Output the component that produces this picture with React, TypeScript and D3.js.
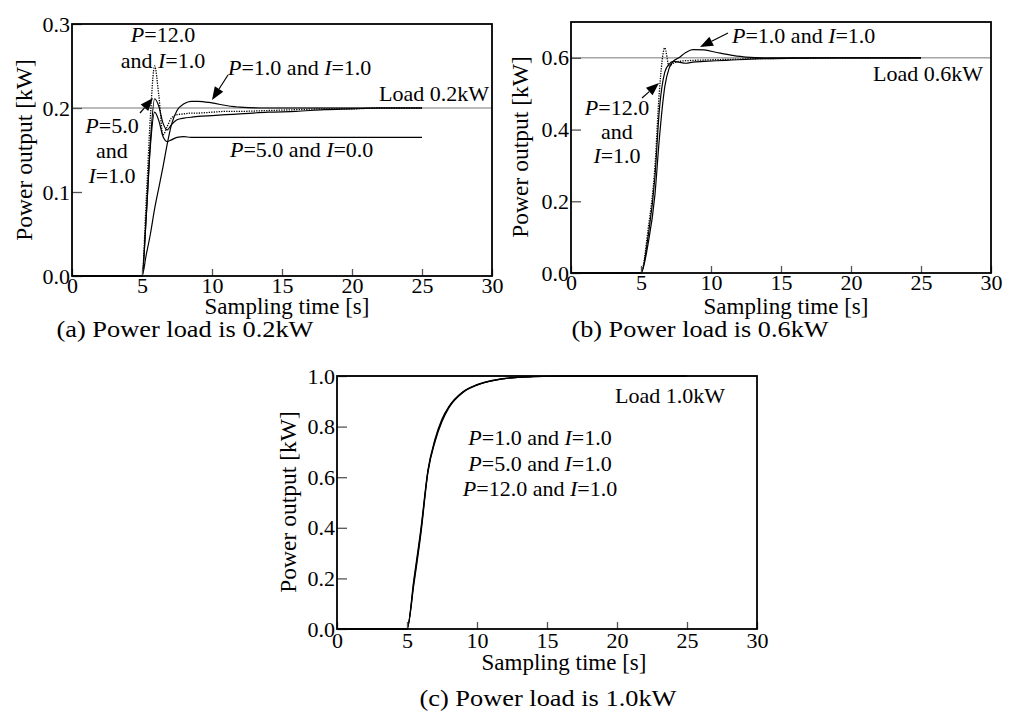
import * as d3 from 'd3';
import React, { useEffect, useRef } from 'react';

// panel (a): load 0.2 kW
const timeA = [0, 5, 5.3, 5.6, 5.9, 6.2, 6.5, 6.8, 7.1, 7.5, 8, 8.5, 9, 10, 11, 12, 14, 16, 18, 20, 22, 25];
const aP12I1 = [0, 0, 0.09, 0.19, 0.25, 0.215, 0.168, 0.178, 0.188, 0.192, 0.193, 0.194, 0.194, 0.195, 0.196, 0.196, 0.197, 0.198, 0.199, 0.199, 0.2, 0.2];
const aP5I1 = [0, 0, 0.07, 0.16, 0.211, 0.202, 0.182, 0.174, 0.18, 0.186, 0.188, 0.189, 0.19, 0.191, 0.192, 0.193, 0.195, 0.196, 0.198, 0.199, 0.2, 0.2];
const aP5I0 = [0, 0, 0.07, 0.155, 0.195, 0.185, 0.166, 0.16, 0.162, 0.165, 0.166, 0.165, 0.165, 0.165, 0.165, 0.165, 0.165, 0.165, 0.165, 0.165, 0.165, 0.165];
const aP1I1 = [0, 0, 0.025, 0.05, 0.08, 0.105, 0.13, 0.157, 0.18, 0.197, 0.205, 0.208, 0.208, 0.206, 0.203, 0.201, 0.2, 0.2, 0.2, 0.2, 0.2, 0.2];

// panel (b): load 0.6 kW
const timeB = [0, 5, 5.5, 6, 6.3, 6.7, 7.0, 7.3, 7.7, 8.2, 8.7, 9.5, 10.4, 11.5, 12.5, 14, 16, 19, 22, 25];
const bP12I1 = [0, 0, 0.12, 0.3, 0.5, 0.628, 0.578, 0.585, 0.59, 0.592, 0.593, 0.594, 0.595, 0.596, 0.597, 0.598, 0.599, 0.6, 0.6, 0.6];
const bP5I1 = [0, 0, 0.1, 0.27, 0.45, 0.56, 0.582, 0.59, 0.588, 0.585, 0.588, 0.59, 0.592, 0.594, 0.596, 0.598, 0.599, 0.6, 0.6, 0.6];
const bP1I1 = [0, 0, 0.08, 0.22, 0.37, 0.52, 0.57, 0.59, 0.6, 0.615, 0.623, 0.622, 0.615, 0.607, 0.602, 0.6, 0.6, 0.6, 0.6, 0.6];

// panel (c): load 1.0 kW
const timeC = [0, 5, 5.5, 6, 6.5, 7, 7.5, 8, 9, 10, 11, 12, 14, 17, 20, 25];
const cP1I1 = [0, 0, 0.18, 0.38, 0.62, 0.74, 0.82, 0.875, 0.935, 0.964, 0.98, 0.99, 0.997, 1, 1, 1];
const cP5I1 = [0, 0, 0.19, 0.39, 0.625, 0.745, 0.825, 0.878, 0.937, 0.965, 0.981, 0.99, 0.997, 1, 1, 1];
const cP12I1 = [0, 0, 0.2, 0.4, 0.63, 0.75, 0.83, 0.88, 0.938, 0.966, 0.982, 0.991, 0.998, 1, 1, 1];

const xTicks = [0, 5, 10, 15, 20, 25, 30];
const yTicksA = [0, 0.1, 0.2, 0.3];
const yTicksB = [0, 0.2, 0.4, 0.6];
const yTicksC = [0, 0.2, 0.4, 0.6, 0.8, 1.0];

const FONT = '"Liberation Serif", "Times New Roman", serif';

interface Series { values: number[]; dotted?: boolean }
interface Note { text: string; x: number; y: number; anchor: string }
interface Arrow { from: [number, number]; to: [number, number] }
interface Panel {
  left: number; right: number; top: number; bottom: number;
  yMax: number; yTicks: number[]; time: number[]; series: Series[]; load: number;
  xPad: number; titleX: number; titleY: number; yTitleX: number; yTitleY: number;
  caption: string; captionX: number; captionY: number;
  notes: Note[]; arrows: Arrow[];
}

const panels: Panel[] = [
  {
    left: 72, right: 492, top: 24, bottom: 276, yMax: 0.3, yTicks: yTicksA, time: timeA, load: 0.2,
    series: [{ values: aP5I0 }, { values: aP1I1 }, { values: aP5I1 }, { values: aP12I1, dotted: true }],
    xPad: 1, titleX: 287, titleY: 314, yTitleX: 32, yTitleY: 150,
    caption: '(a) Power load is 0.2kW', captionX: 185, captionY: 337,
    notes: [
      { text: 'P=12.0', x: 91, y: 18, anchor: 'middle' },
      { text: 'and I=1.0', x: 91, y: 44, anchor: 'middle' },
      { text: 'P=1.0 and I=1.0', x: 156, y: 51, anchor: 'start' },
      { text: 'Load 0.2kW', x: 417, y: 77, anchor: 'end' },
      { text: 'P=5.0', x: 40, y: 109, anchor: 'middle' },
      { text: 'and', x: 40, y: 134, anchor: 'middle' },
      { text: 'I=1.0', x: 40, y: 159, anchor: 'middle' },
      { text: 'P=5.0 and I=0.0', x: 158, y: 133, anchor: 'start' },
    ],
    arrows: [
      { from: [156, 51], to: [140, 76] },
      { from: [68, 89], to: [81, 74] },
    ],
  },
  {
    left: 571, right: 991, top: 22, bottom: 273, yMax: 0.7, yTicks: yTicksB, time: timeB, load: 0.6,
    series: [{ values: bP1I1 }, { values: bP5I1 }, { values: bP12I1, dotted: true }],
    xPad: 1, titleX: 786, titleY: 314, yTitleX: 528, yTitleY: 147,
    caption: '(b) Power load is 0.6kW', captionX: 700, captionY: 337,
    notes: [
      { text: 'P=1.0 and I=1.0', x: 161, y: 21, anchor: 'start' },
      { text: 'Load 0.6kW', x: 302, y: 59, anchor: 'start' },
      { text: 'P=12.0', x: 46, y: 93, anchor: 'middle' },
      { text: 'and', x: 46, y: 117, anchor: 'middle' },
      { text: 'I=1.0', x: 46, y: 141, anchor: 'middle' },
    ],
    arrows: [
      { from: [157, 11], to: [129, 25] },
      { from: [71, 76], to: [88, 61] },
    ],
  },
  {
    left: 337, right: 757, top: 376, bottom: 629, yMax: 1.0, yTicks: yTicksC, time: timeC, load: 1.0,
    series: [{ values: cP1I1 }, { values: cP5I1 }, { values: cP12I1 }],
    xPad: 3, titleX: 564, titleY: 670, yTitleX: 296, yTitleY: 502,
    caption: '(c) Power load is 1.0kW', captionX: 548, captionY: 706,
    notes: [
      { text: 'Load 1.0kW', x: 278, y: 27, anchor: 'start' },
      { text: 'P=1.0 and I=1.0', x: 203, y: 69, anchor: 'middle' },
      { text: 'P=5.0 and I=1.0', x: 203, y: 95, anchor: 'middle' },
      { text: 'P=12.0 and I=1.0', x: 203, y: 120, anchor: 'middle' },
    ],
    arrows: [],
  },
];

// P and I symbols in italics
function richText(sel: d3.Selection<SVGTextElement, unknown, null, undefined>, str: string) {
  str.split(/([PI])(?==)/).forEach((part, i) => {
    if (!part) return;
    sel.append('tspan').attr('font-style', i % 2 ? 'italic' : 'normal').text(part);
  });
}

function drawPanel(svg: d3.Selection<SVGSVGElement, unknown, null, undefined>, p: Panel) {
  const x = d3.scaleLinear().domain([0, 30]).range([p.left, p.right]);
  const y = d3.scaleLinear().domain([0, p.yMax]).range([p.bottom, p.top]);
  const g = svg.append('g').style('font-family', FONT);

  // load reference line
  g.append('line')
    .attr('x1', x(0)).attr('x2', x(30))
    .attr('y1', y(p.load)).attr('y2', y(p.load))
    .attr('stroke', '#777').attr('stroke-width', 1);

  const line = d3.line<number>()
    .x((_, i) => x(p.time[i]))
    .y(d => y(d))
    .curve(d3.curveMonotoneX);

  p.series.forEach(s => {
    g.append('path')
      .attr('d', line(s.values))
      .attr('fill', 'none')
      .attr('stroke', '#000')
      .attr('stroke-width', s.dotted ? 1.3 : 1.2)
      .attr('stroke-dasharray', s.dotted ? '1.3,1.2' : null);
  });

  // axes with inward ticks
  const yAxis = g.append('g')
    .attr('transform', `translate(${p.left},0)`)
    .call(d3.axisLeft(y).tickValues(p.yTicks).tickSize(-10).tickPadding(2).tickFormat(d3.format('.1f')));
  const xAxis = g.append('g')
    .attr('transform', `translate(0,${p.bottom})`)
    .call(d3.axisBottom(x).tickValues(xTicks).tickSize(-7).tickPadding(p.xPad).tickFormat(d3.format('d')));
  [yAxis, xAxis].forEach(a => {
    a.select('.domain').remove();
    a.selectAll('line').attr('stroke', '#555').attr('stroke-width', 1.3);
    a.selectAll('text').attr('fill', '#000').style('font-size', '22px').style('font-family', FONT);
  });

  g.append('rect')
    .attr('x', p.left).attr('y', p.top)
    .attr('width', p.right - p.left).attr('height', p.bottom - p.top)
    .attr('fill', 'none').attr('stroke', '#000').attr('stroke-width', 1.8);

  g.append('text')
    .attr('x', p.titleX).attr('y', p.titleY)
    .attr('text-anchor', 'middle').style('font-size', '23px')
    .text('Sampling time [s]');

  g.append('text')
    .attr('transform', `translate(${p.yTitleX},${p.yTitleY}) rotate(-90)`)
    .attr('text-anchor', 'middle').style('font-size', '23.5px')
    .text('Power output [kW]');

  // captions are set wide in the figure
  g.append('text')
    .attr('x', p.captionX).attr('y', p.captionY)
    .attr('text-anchor', 'middle').style('font-size', '23px')
    .attr('textLength', 257).attr('lengthAdjust', 'spacingAndGlyphs')
    .text(p.caption);

  p.notes.forEach(n => {
    const t = g.append('text')
      .attr('x', p.left + n.x).attr('y', p.top + n.y)
      .attr('text-anchor', n.anchor).style('font-size', '22px');
    richText(t, n.text);
  });

  p.arrows.forEach(a => {
    const [x1, y1] = [p.left + a.from[0], p.top + a.from[1]];
    const [x2, y2] = [p.left + a.to[0], p.top + a.to[1]];
    const ang = Math.atan2(y2 - y1, x2 - x1);
    const len = 13, half = 5;
    const bx = x2 - len * Math.cos(ang), by = y2 - len * Math.sin(ang);
    g.append('line')
      .attr('x1', x1).attr('y1', y1).attr('x2', bx).attr('y2', by)
      .attr('stroke', '#000').attr('stroke-width', 1.2);
    const pts = [
      [x2, y2],
      [bx + half * Math.sin(ang), by - half * Math.cos(ang)],
      [bx - half * Math.sin(ang), by + half * Math.cos(ang)],
    ];
    g.append('polygon').attr('points', pts.map(q => q.join(',')).join(' ')).attr('fill', '#000');
  });
}

export default function App() {
  const svgRef = useRef<SVGSVGElement>(null);

  useEffect(() => {
    if (!svgRef.current) return;
    const svg = d3.select(svgRef.current);
    svg.selectAll('*').remove();
    panels.forEach(p => drawPanel(svg, p));
  }, []);

  return (
    <svg
      ref={svgRef}
      width={1020}
      height={713}
      style={{ position: 'absolute', left: 0, top: 0, background: '#fff' }}
    />
  );
}
